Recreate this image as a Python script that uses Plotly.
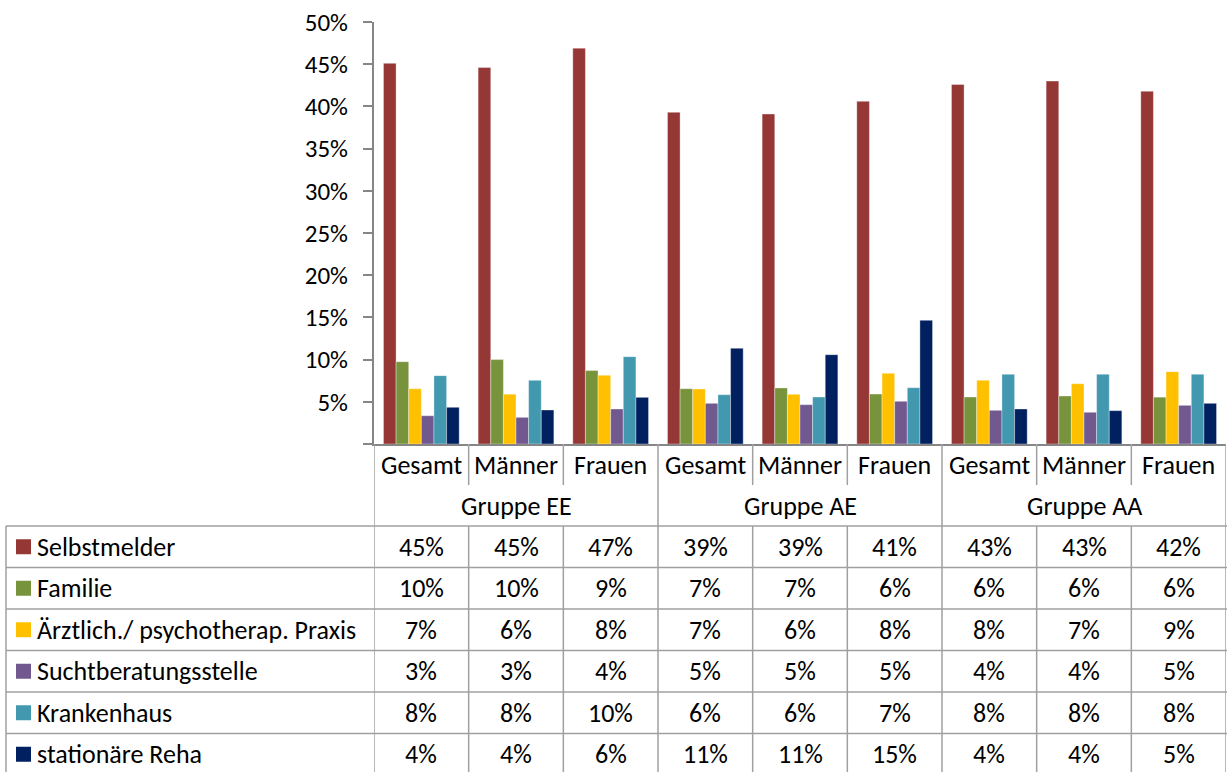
import plotly.graph_objects as go

# --- data ---
groups = ["Gruppe EE", "Gruppe AE", "Gruppe AA"]
subgroups = ["Gesamt", "Männer", "Frauen"]
series = ["Selbstmelder", "Familie", "Ärztlich./ psychotherap. Praxis",
          "Suchtberatungsstelle", "Krankenhaus", "stationäre Reha"]
colors = ["#953735", "#77933C", "#FFC000", "#71588F", "#4198AF", "#002060"]

selbstmelder = [45.1, 44.6, 46.9, 39.3, 39.1, 40.6, 42.6, 43.0, 41.8]
familie = [9.75, 10.0, 8.7, 6.55, 6.64, 5.92, 5.57, 5.69, 5.55]
praxis = [6.55, 5.9, 8.14, 6.52, 5.89, 8.38, 7.55, 7.14, 8.57]
sucht = [3.35, 3.16, 4.15, 4.82, 4.66, 5.06, 3.99, 3.76, 4.58]
krankenhaus = [8.1, 7.55, 10.35, 5.84, 5.57, 6.67, 8.26, 8.26, 8.26]
reha = [4.35, 4.03, 5.53, 11.34, 10.58, 14.65, 4.15, 3.95, 4.82]
values = [selbstmelder, familie, praxis, sucht, krankenhaus, reha]

ytick_vals = [0, 5, 10, 15, 20, 25, 30, 35, 40, 45, 50]
ytick_text = ["", "5%", "10%", "15%", "20%", "25%", "30%", "35%", "40%", "45%", "50%"]

W, H = 1227, 772
FONT = "Carlito, Calibri, Lato, sans-serif"
GRID = "#a0a0a0"
AXIS = "#868686"
fs = 26

def py(px):
    return 1 - px / H

def pxx(px):
    return px / W

n_cols = len(groups) * len(subgroups)
xs = list(range(n_cols))

fig = go.Figure()
for name, col, vals in zip(series, colors, values):
    fig.add_trace(go.Bar(
        x=xs, y=vals, name=name, marker_color=col,
        marker_line=dict(width=0.6, color="rgba(255,255,255,0.6)"),
        showlegend=False,
    ))

# --- table geometry (px from top) ---
axis_y = 444
sub_bot = 485
grp_bot = 526
row_h = 41.5
row_edges = [grp_bot + i * row_h for i in range(len(series) + 1)]
left_px = 6

shapes = []
line = dict(color=GRID, width=1.5)
for y in row_edges:
    shapes.append(dict(type="line", xref="paper", yref="paper",
                       x0=pxx(left_px), x1=1, y0=py(y), y1=py(y), line=line))
for c in range(n_cols + 1):
    xb = c - 0.5
    if c % len(subgroups) == 0:
        y_top = axis_y
    else:
        shapes.append(dict(type="line", xref="x", yref="paper",
                           x0=xb, x1=xb, y0=py(axis_y), y1=py(sub_bot), line=line))
        y_top = grp_bot
    shapes.append(dict(type="line", xref="x", yref="paper",
                       x0=xb, x1=xb, y0=py(y_top), y1=py(row_edges[-1]), line=line))
shapes.append(dict(type="line", xref="paper", yref="paper",
                   x0=pxx(left_px), x1=pxx(left_px), y0=py(grp_bot), y1=py(row_edges[-1]),
                   line=line))

annotations = []
for i, sg in enumerate(subgroups * len(groups)):
    annotations.append(dict(x=i, y=py((axis_y + sub_bot) / 2), xref="x", yref="paper",
                            text=sg, showarrow=False, xanchor="center", yanchor="middle"))
for g, gname in enumerate(groups):
    annotations.append(dict(x=g * len(subgroups) + 1, y=py((sub_bot + grp_bot) / 2),
                            xref="x", yref="paper", text=gname, showarrow=False,
                            xanchor="center", yanchor="middle"))
for r, (name, col, vals) in enumerate(zip(series, colors, values)):
    yc = (row_edges[r] + row_edges[r + 1]) / 2
    shapes.append(dict(type="rect", xref="paper", yref="paper",
                       x0=pxx(16), x1=pxx(31), y0=py(yc + 7.5), y1=py(yc - 7.5),
                       fillcolor=col, line=dict(width=0)))
    annotations.append(dict(x=pxx(35), y=py(yc), xref="paper", yref="paper",
                            text=name, showarrow=False, xanchor="left", yanchor="middle"))
    for i, v in enumerate(vals):
        annotations.append(dict(x=i, y=py(yc), xref="x", yref="paper",
                                text=f"{v:.0f}%", showarrow=False,
                                xanchor="center", yanchor="middle"))

fig.update_layout(
    width=W, height=H,
    margin=dict(l=0, r=0, t=0, b=0, pad=0),
    plot_bgcolor="white", paper_bgcolor="white",
    font=dict(family=FONT, size=fs, color="black"),
    barmode="group", bargap=0.2, bargroupgap=0,
    xaxis=dict(domain=[pxx(374), pxx(1226)], range=[-0.5, n_cols - 0.5],
               showticklabels=False, ticks="", showgrid=False, zeroline=False,
               showline=True, linecolor=AXIS, linewidth=2, automargin=False),
    yaxis=dict(domain=[py(axis_y), py(22)], range=[0, 50],
               tickvals=ytick_vals, ticktext=ytick_text, ticks="outside",
               ticklen=9, tickcolor=AXIS, tickwidth=1.5, tickfont=dict(size=25),
               showgrid=False, zeroline=False, showline=True,
               linecolor=AXIS, linewidth=2, ticklabelstandoff=10, automargin=False),
    shapes=shapes, annotations=annotations,
)

fig.write_html("out.html", config={"displayModeBar": False},
               post_script="document.body.style.margin='0px';")
